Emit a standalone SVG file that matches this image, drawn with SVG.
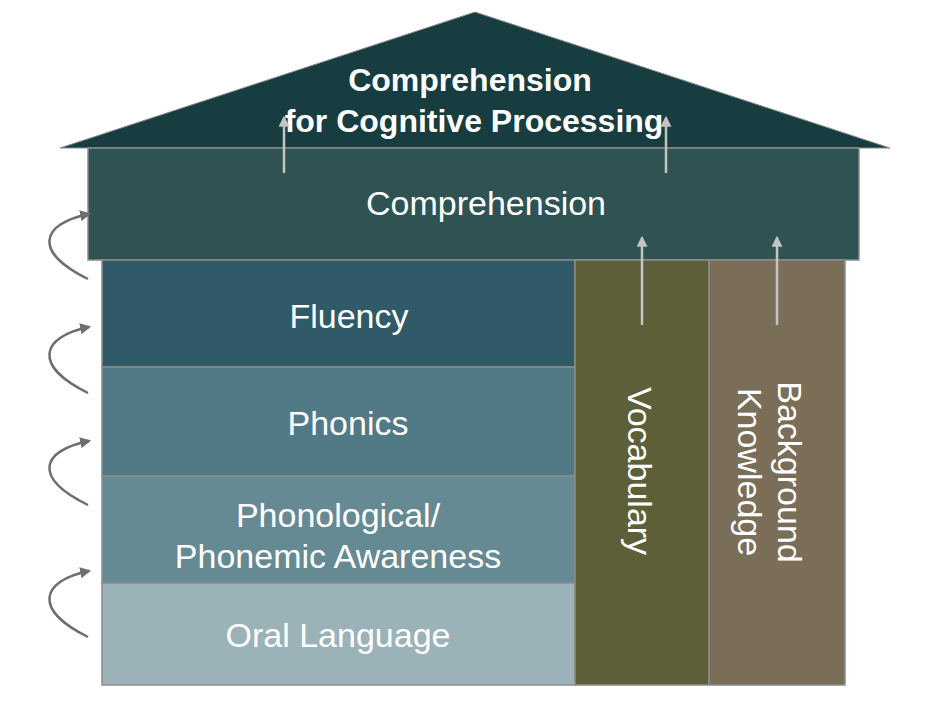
<svg xmlns="http://www.w3.org/2000/svg" width="949" height="710" viewBox="0 0 949 710">
<defs>
<style>
.blk{stroke:#8c8c8c;stroke-width:1.5}
.t{fill:#ffffff;font-family:"Liberation Sans",Arial,sans-serif;font-size:34px;text-anchor:middle}
.tb{font-weight:bold;font-size:32px}
.up{stroke:#c4c4c4;stroke-width:2.5;fill:none;marker-end:url(#ah1)}
.cv{stroke:#6e6e6e;stroke-width:2.5;fill:none;marker-end:url(#ah2)}
</style>
<marker id="ah1" viewBox="0 0 10 10" refX="8" refY="5" markerWidth="4.4" markerHeight="4.4" orient="auto"><path d="M0,0 L10,5 L0,10 z" fill="#c4c4c4"/></marker>
<marker id="ah2" viewBox="0 0 10 10" refX="8" refY="5" markerWidth="4.4" markerHeight="4.4" orient="auto"><path d="M0,0 L10,5 L0,10 z" fill="#6e6e6e"/></marker>
</defs>
<rect width="949" height="710" fill="#ffffff"/>
<g id="roof">
<polygon points="475,12 890,148 60,148" fill="#173d40" stroke="#8c8c8c" stroke-width="1"/>
<text class="t tb" x="470" y="91">Comprehension</text>
<text class="t tb" x="474" y="132">for Cognitive Processing</text>
</g>
<g id="comprehension">
<rect class="blk" x="88" y="148" width="771" height="112" fill="#2f5253"/>
<text class="t" x="486" y="215">Comprehension</text>
</g>
<g id="fluency">
<rect class="blk" x="102" y="260" width="473" height="107" fill="#305a68"/>
<text class="t" x="349" y="328">Fluency</text>
</g>
<g id="phonics">
<rect class="blk" x="102" y="367" width="473" height="109" fill="#517a86"/>
<text class="t" x="348" y="435">Phonics</text>
</g>
<g id="phonological">
<rect class="blk" x="102" y="476" width="473" height="107" fill="#668a94"/>
<text class="t" x="338" y="527">Phonological/</text>
<text class="t" x="338" y="568">Phonemic Awareness</text>
</g>
<g id="oral">
<rect class="blk" x="102" y="583" width="473" height="102" fill="#9ab2b8"/>
<text class="t" x="338" y="647">Oral Language</text>
</g>
<g id="vocabulary">
<rect class="blk" x="575" y="260" width="134" height="425" fill="#5d5f39"/>
<text class="t" transform="translate(628,471) rotate(90)" x="0" y="0">Vocabulary</text>
</g>
<g id="background">
<rect class="blk" x="709" y="260" width="136" height="425" fill="#7a6e58"/>
<text class="t" transform="translate(778,472) rotate(90)" x="0" y="0">Background</text>
<text class="t" transform="translate(738,472) rotate(90)" x="0" y="0">Knowledge</text>
</g>
<g id="connectors">
<path class="up" d="M284,173 L284,118"/>
<path class="up" d="M666,173 L666,118"/>
<path class="up" d="M642,325 L642,238"/>
<path class="up" d="M777,325 L777,238"/>
<path class="cv" d="M88,279 C33,252 40,224 89,214"/>
<path class="cv" d="M88,393 C33,366 40,337 89,327"/>
<path class="cv" d="M88,505 C33,478 40,451 89,441"/>
<path class="cv" d="M88,637 C33,610 40,581 89,571"/>
</g>
</svg>
